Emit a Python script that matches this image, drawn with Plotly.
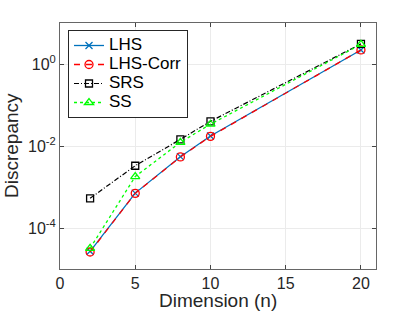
import plotly.graph_objects as go

dims = [2, 5, 8, 10, 20]
lhs = [2.7e-5, 7.1e-4, 5.5e-3, 0.0175, 2.2]
lhs_corr = [2.6e-5, 7.0e-4, 5.4e-3, 0.0172, 2.2]
srs = [5.3e-4, 3.3e-3, 0.0145, 0.040, 3.1]
ss = [3.2e-5, 1.8e-3, 0.0123, 0.034, 3.0]
names = ["LHS", "LHS-Corr", "SRS", "SS"]

xticks = [0, 5, 10, 15, 20]
yticks = [1e-4, 1e-2, 1]
yticktext = ["10<sup>-4</sup>", "10<sup>-2</sup>", "10<sup>0</sup>"]

FONT = "Liberation Sans, Arial, sans-serif"
L, R, T, B = 60, 39, 23, 43
PW, PH = 415 - L - R, 312 - T - B


def lg(name):
    return "<span style='font-size:17px'>" + name + "</span>"


fig = go.Figure()
fig.add_trace(go.Scatter(x=dims, y=lhs, name=lg(names[0]), mode="lines+markers",
                         line=dict(color="#0072BD", width=1.3),
                         marker=dict(symbol="x-thin", size=7, line=dict(color="#0072BD", width=1.3))))
fig.add_trace(go.Scatter(x=dims, y=lhs_corr, name=lg(names[1]), mode="lines+markers",
                         line=dict(color="#FF0000", width=1.3, dash="6px,6px"),
                         marker=dict(symbol="circle-open", size=8, color="#FF0000", line=dict(width=1.3))))
fig.add_trace(go.Scatter(x=dims, y=srs, name=lg(names[2]), mode="lines+markers",
                         line=dict(color="#000000", width=1.2, dash="5px,2px,1px,2px"),
                         marker=dict(symbol="square-open", size=7, color="#000000", line=dict(width=1.3))))
fig.add_trace(go.Scatter(x=dims, y=ss, name=lg(names[3]), mode="lines+markers",
                         line=dict(color="#00FF00", width=1.3, dash="dot"),
                         marker=dict(symbol="triangle-up-open", size=8, color="#00FF00", line=dict(width=1.3))))

fig.update_layout(
    width=415, height=312,
    margin=dict(l=L, r=R, t=T, b=B, autoexpand=False),
    paper_bgcolor="white", plot_bgcolor="white",
    font=dict(family=FONT, size=14, color="#262626"),
    showlegend=True,
    legend=dict(x=(68 - L) / PW, y=(T + PH - 30) / PH, xanchor="left", yanchor="top",
                bgcolor="white", bordercolor="#262626", borderwidth=1,
                font=dict(size=12, color="#000000"), itemwidth=30,
                tracegroupgap=0),
    annotations=[
        dict(text="Discrepancy", xref="paper", yref="paper",
             x=(11 - L) / PW, y=0.5, textangle=-90, showarrow=False,
             xanchor="center", yanchor="middle", font=dict(size=19)),
        dict(text="Dimension (n)", xref="paper", yref="paper",
             x=0.5, y=-(300 - T - PH) / PH, showarrow=False,
             xanchor="center", yanchor="middle", font=dict(size=19)),
    ],
)
fig.update_xaxes(range=[0, 21], tickvals=xticks, ticks="inside", ticklen=4,
                 showline=True, linecolor="#666666", linewidth=1, mirror="allticks",
                 showgrid=True, gridcolor="#EBEBEB", zeroline=False, automargin=False,
                 tickfont=dict(size=16))
fig.update_yaxes(type="log", range=[-5, 1], tickvals=yticks, ticktext=yticktext,
                 ticks="inside", ticklen=4,
                 showline=True, linecolor="#666666", linewidth=1, mirror="allticks",
                 showgrid=True, gridcolor="#EBEBEB", zeroline=False, automargin=False,
                 tickfont=dict(size=16))

fig.write_html("out.html", config={"displayModeBar": False},
               post_script="document.body.style.margin='0';")
